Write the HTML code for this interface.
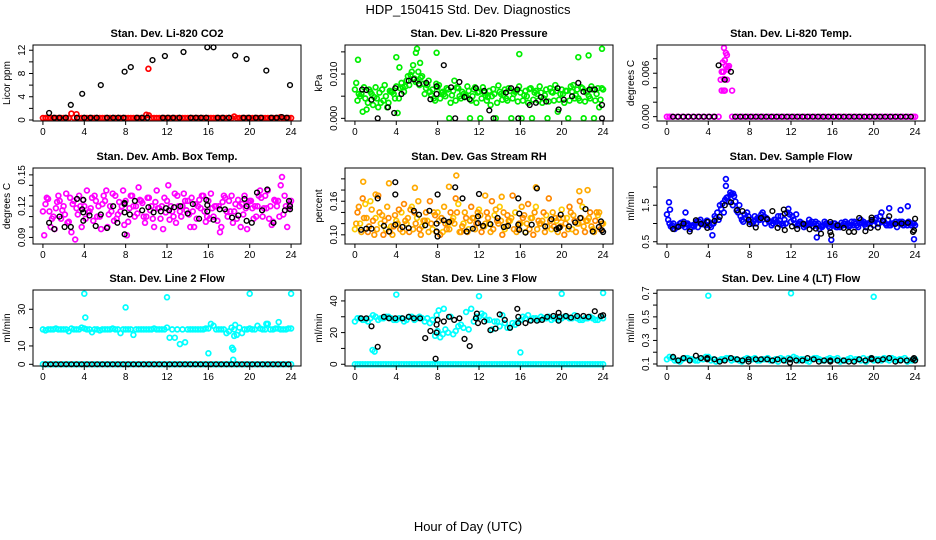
<!DOCTYPE html>
<html><head><meta charset="utf-8"><style>
html,body{margin:0;padding:0;background:#fff;}
svg{display:block;font-family:"Liberation Sans",Arial,sans-serif;}
</style></head><body>
<svg id="chart" width="936" height="540" viewBox="0 0 936 540" xmlns="http://www.w3.org/2000/svg">
<text x="468" y="14" text-anchor="middle" font-size="13">HDP_150415  Std. Dev. Diagnostics</text>
<text x="468" y="531" text-anchor="middle" font-size="13">Hour of Day (UTC)</text>
</svg>
<script>
// ---------- data ----------
const xTicks = [0,4,8,12,16,20,24];
// P1 CO2
const co2RedA = [.35,.35,.35,.35,.35,.35,.4,.35,.35,.35,.35,.35,.35,.35,.35,.35,.35,.35,.35,.35,.9,.35,.35,.35,.35,.35,.35,.35,.35,.35,.35,.35,.35,.35,.35,.35,.35,.6,.35,.35,.35,.35,.35,.35,.35,.35,.5,.35,.35];
const co2RedB = [.35,.35,.35,.35,.35,1.1,1.0,.35,.35,.35,.35,.35,.35,.35,.35,.35,.35,.35,.35,.35,.8,.35,.35,.35,.35,.35,.35,.35,.35,.35,.35,.35,.35,.35,.35,.35,.35,.35,.35,.35,.35,.35,.35,.35,.35,.35,.35,.35];
const co2BlackX = [0.6,2.7,3.8,5.6,7.9,8.5,10.6,11.8,13.6,15.9,16.5,18.6,19.7,21.6,23.9,1.1,1.6,2.2,3.3,4.0,4.6,5.2,6.2,6.8,7.3,7.8,9.1,9.6,10.1,11.6,12.1,12.6,13.2,14.3,14.8,15.3,15.8,16.9,17.4,18.0,19.4,19.9,20.6,21.1,22.1,22.6,23.1,23.6];
const co2BlackY = [1.2,2.6,4.5,6.0,8.3,9.1,10.3,11.0,11.7,12.5,12.5,11.1,10.5,8.5,6.0,.4,.4,.4,.4,.4,.4,.4,.4,.4,.4,.4,.4,.4,.4,.4,.4,.4,.4,.4,.4,.4,.4,.4,.4,.4,.4,.4,.4,.4,.4,.4,.5,.4];
const co2RedX = [10.2]; const co2RedY = [8.8];
// P2 pressure
const presA = [.0065,.005,.0045,.006,.007,.0035,.005,.006,.0072,.008,.0085,.0105,.0085,.0095,.0075,.0065,.007,.006,.0065,.0062,.0068,.0055,.0062,.0065,.006,.0058,.0062,.0055,.006,.0065,.0062,.006,.0058,.0062,.0068,.0062,.0058,.0065,.006,.0062,.0065,.0062,.006,.0065,.0068,.0062,.0065,.0068,.0065];
const presB = [.004,.0015,.0035,.003,.0025,.004,.0035,.0055,.0045,.006,.0075,.009,.0075,.0055,.006,.004,.0045,.005,.0035,.004,.0045,.005,.004,.0035,.0045,.004,.005,.0035,.0042,.004,.0045,.0038,.004,.0035,.0042,.004,.0045,.0038,.004,.0042,.0035,.004,.0045,.004,.0038,.0045,.004,.0042];
const presC = [.008,.0055,.002,.0055,.0045,.0065,.0025,.006,.0012,.007,.0095,.012,.0105,.0078,.0085,.0045,.0075,.0055,0,.0085,.005,.0048,0,.007,0,.0052,.003,0,.0055,.0045,0,.0062,0,.005,0,.0055,.0035,0,.0058,.0015,.0055,0,.0075,.0045,0,.005,0,.0025];
const presD = [.0055,.007,.0065,.0048,.0058,.0075,.0062,.0045,.0068,.0072,.0098,.0082,.0092,.0068,.0052,.0078,.0058,.0068,.0052,.007,.006,.0072,.005,.0058,.007,.0048,.0066,.0074,.0052,.0068,.0055,.0072,.0052,.0066,.0058,.0072,.0052,.0068,.0075,.0055,.0062,.0072,.0052,.007,.0058,.0072,.0055,.0068];
const presOutX = [0.3,4,7.9,15.9,21.6,22.6,23.9,6.0,4.3,5.9,6.3];
const presOutY = [.0132,.0138,.0148,.0145,.0138,.0142,.0157,.0157,.0115,.0148,.0125];
const presBlackX = [0.7,1.1,1.6,2.2,3.2,3.8,3.9,4.5,5.2,5.7,6.2,6.9,7.3,7.9,7.9,8.6,9.3,9.7,10.1,10.6,11.1,11.7,12.5,13,13.4,14.6,15.1,15.7,15.8,16.9,17.5,18,18.5,19.6,19.7,20.2,21,21.6,22.1,22.7,23.2,23.9,23.9];
const presBlackY = [.0065,.0064,.0042,0,.0025,.0012,.0068,.0055,.0085,.0088,.0078,.008,.0043,.0072,.0055,.012,.007,0,.0082,.0048,.0043,.0068,.0062,.0018,0,.0058,.0068,.0065,0,.003,.0035,.0048,.0038,.0068,.002,.0042,.005,.008,.006,.0065,.0065,.003,0];
// P3 Li-820 temp
const tempZeros = [0,0,0,0,0,0,0,0,0,0,0,0,0,0,0,0,0,0,0,0,0,0,0,0,0,0,0,0,0,0,0,0,0,0,0,0,0,0,0,0,0,0,0,0,0,0,0,0,0];
const tempZeroHours = [0,0.5,1,1.5,2,2.5,3,3.5,4,4.5,5,6.3,6.8,7.3,7.8,8.3,8.8,9.3,9.8,10.3,10.8,11.3,11.8,12.3,12.8,13.3,13.8,14.3,14.8,15.3,15.8,16.3,16.8,17.3,17.8,18.3,18.8,19.3,19.8,20.3,20.8,21.3,21.8,22.3,22.8,23.3,23.8,24,0.25];
const tempSpikeX = [5.52,5.7,5.8,5.6,5.4,5.7,6.0,5.9,5.3,5.4,5.9,5.2,5.5,5.8,5.3,5.5,5.6,6.3,5.45];
const tempSpikeY = [.0095,.0088,.0085,.0078,.0075,.0070,.0070,.0068,.0062,.0062,.0065,.0051,.0052,.0051,.0036,.0036,.0036,.0036,.0062];
const tempBlackX = [5.0,6.2,5.6];
const tempBlackY = [.0071,.0062,.0051];
// P4 box temp
const boxA = [.115,.127,.11,.13,.12,.105,.125,.13,.12,.115,.13,.11,.125,.12,.13,.115,.125,.13,.12,.125,.11,.12,.135,.12,.125,.115,.13,.12,.125,.115,.12,.13,.125,.11,.12,.13,.125,.115,.12,.13,.125,.12,.135,.13,.12,.125,.14,.12,.125];
const boxB = [.122,.1,.118,.108,.132,.095,.118,.1,.135,.128,.11,.122,.1,.132,.112,.135,.105,.12,.138,.11,.128,.1,.118,.128,.107,.132,.115,.125,.1,.122,.118,.105,.132,.12,.1,.115,.13,.108,.122,.098,.118,.12,.11,.135,.105,.125,.112,.118];
const boxC = [.092,.115,.098,.125,.112,.128,.088,.12,.108,.118,.125,.098,.135,.115,.108,.12,.092,.13,.113,.123,.128,.108,.118,.098,.14,.11,.12,.132,.112,.1,.126,.115,.108,.12,.095,.128,.115,.122,.1,.118,.125,.11,.128,.118,.102,.12,.148,.1];
const boxD = [.128,.108,.124,.116,.104,.122,.112,.126,.114,.106,.12,.13,.112,.106,.124,.102,.118,.11,.126,.104,.116,.124,.108,.114,.12,.104,.11,.116,.128,.108,.13,.11,.118,.106,.124,.11,.104,.126,.112,.124,.108,.13,.118,.108,.126,.11,.13,.122];
const boxBlackX = [0.6,1.1,1.6,2.1,2.7,3.3,3.9,3.8,3.9,3.9,4.5,5.1,5.6,6.2,6.8,7.2,7.9,7.9,7.9,7.9,8.4,8.9,9.6,10.2,10.7,11.4,11.9,12.2,12.7,13.3,14,14.5,15.1,15.8,15.9,15.9,16.5,17.1,17.6,18.3,18.9,19.5,19.7,19.7,20.2,20.7,21.2,21.7,22.3,23.4,23.8,23.9,23.9];
const boxBlackY = [.104,.098,.11,.1,.1,.127,.126,.117,.114,.106,.111,.101,.112,.099,.12,.104,.123,.122,.114,.093,.112,.125,.116,.119,.114,.115,.118,.116,.119,.12,.113,.122,.108,.126,.121,.115,.107,.117,.117,.109,.111,.127,.12,.106,.104,.133,.116,.136,.104,.116,.125,.12,.117];
// P5 RH
const rhA = [.11,.12,.155,.16,.13,.12,.11,.115,.125,.14,.12,.15,.13,.115,.125,.11,.14,.105,.12,.13,.155,.12,.11,.13,.145,.115,.12,.135,.15,.11,.125,.14,.12,.105,.13,.15,.12,.135,.11,.125,.145,.13,.11,.12,.15,.125,.11,.135,.12];
const rhB = [.14,.165,.105,.125,.17,.1,.13,.115,.145,.155,.105,.14,.11,.125,.16,.135,.1,.12,.14,.165,.105,.13,.15,.12,.105,.14,.16,.125,.1,.135,.17,.11,.13,.155,.1,.125,.14,.165,.115,.13,.1,.15,.125,.16,.105,.14,.125,.11];
const rhC = [.12,.105,.13,.145,.11,.135,.15,.1,.12,.105,.13,.11,.16,.125,.105,.14,.125,.15,.11,.12,.105,.14,.125,.11,.135,.12,.105,.145,.125,.115,.13,.105,.15,.12,.13,.11,.125,.115,.14,.105,.13,.11,.135,.12,.115,.13,.105,.14];
const rhD = [.15,.13,.115,.1,.14,.125,.105,.135,.11,.125,.145,.12,.1,.14,.12,.105,.13,.11,.125,.14,.115,.105,.13,.14,.115,.13,.11,.12,.14,.125,.11,.12,.135,.11,.14,.12,.105,.125,.13,.115,.12,.14,.105,.13,.125,.115,.14,.12];
const rhOutX = [0.8,3.3,5.8,9.1,9.8,12.6,17.5,22.5,21.7,2.0,14.2];
const rhOutY = [.195,.192,.184,.186,.206,.17,.185,.18,.178,.172,.168];
const rhBlackX = [0.6,1.1,1.6,2.2,2.8,3.3,3.9,3.9,3.9,4.6,5.2,5.7,6.2,6.8,7.2,7.9,7.9,8,8,8.6,9.1,9.7,10.4,10.8,11.4,11.9,11.9,12,12.4,13.1,13.8,14.4,14.8,15.8,15.8,15.9,15.9,16.5,17.1,17.6,18.4,19,19.5,19.7,19.8,19.9,20.7,21.3,21.8,22.3,23,23.6,23.8,23.9,24];
const rhBlackY = [.109,.111,.111,.165,.116,.106,.118,.194,.172,.114,.112,.143,.136,.117,.143,.106,.12,.172,.097,.126,.123,.185,.165,.106,.111,.133,.121,.173,.116,.119,.13,.114,.116,.165,.118,.109,.138,.104,.118,.183,.115,.128,.11,.112,.113,.136,.115,.122,.13,.146,.106,.114,.124,.108,.105];
// P6 sample flow
const flowA = [1.25,.95,.9,.95,1.0,.95,.9,1.0,1.05,1.0,1.1,1.3,1.6,1.75,1.5,1.25,1.05,1.2,1.1,1.0,1.05,1.1,1.2,1.0,1.05,1.25,1.0,.95,1.05,.95,.9,1.0,.95,.9,.95,1.0,.95,.9,1.05,1.0,.95,1.0,1.05,.95,1.0,1.05,1.0,1.0,.95];
const flowB = [1.0,.85,1.0,.9,.85,1.0,1.1,.95,.9,1.15,1.4,1.7,1.8,1.35,1.1,1.3,1.0,1.15,1.3,1.1,1.0,1.2,.95,1.4,1.1,1.0,.9,1.1,1.0,.85,1.05,.88,1.0,.9,1.05,.95,1.0,1.1,.9,1.05,1.15,1.3,.95,1.0,.9,1.05,.95,1.0];
const flowC = [1.1,1.0,.92,1.05,.95,.92,1.05,1.0,.95,1.2,1.5,1.65,1.85,1.6,1.2,1.15,1.1,1.0,1.25,1.15,.95,1.05,1.0,1.3,1.2,.95,1.0,1.0,.92,1.0,.95,.93,1.0,.95,1.0,.92,1.05,1.0,.97,1.0,1.1,1.2,1.0,.95,1.05,.98,1.0,.95];
const flowD = [.92,.9,1.02,.98,.9,1.05,.98,1.08,1.0,1.3,1.55,1.72,1.5,1.3,1.05,1.2,1.05,1.1,1.2,1.05,1.1,.98,1.1,1.25,1.0,1.05,.95,.98,1.05,.92,1.0,.98,.9,1.02,.95,1.05,.95,1.02,1.0,1.08,1.0,1.05,1.1,1.0,1.02,.95,1.05,1.0];
const flowOutX = [0.2,0.3,1.8,4.4,5.7,5.7,6.4,21.5,22.6,23.3,23.9,15.9,14.5];
const flowOutY = [1.58,1.38,1.3,.68,2.22,2.03,1.82,1.42,1.37,1.47,.57,.55,.62];
const flowBlackX = [0.6,1.1,1.6,2.2,2.8,3.3,3.9,3.9,4.6,5.1,5.6,6.2,6.8,7.3,7.9,8.0,8.6,9.1,9.7,10.2,10.7,11.3,11.4,11.4,12.1,12.6,13.2,13.8,14.4,14.9,15.8,15.9,15.8,16.5,17.1,17.6,18.1,18.6,19.2,19.7,19.8,19.8,20.4,20.9,21.5,22.1,22.7,23.3,23.8,23.9,24.0];
const flowBlackY = [.85,.91,1.0,.78,1.09,.99,1.04,.88,1.07,1.18,1.5,1.58,1.37,1.34,1.1,.98,.89,1.15,1.12,1.34,.88,1.38,1.27,.82,.92,.85,.99,.84,.86,.72,.76,.68,1.04,.95,.88,.77,.77,1.15,.79,.88,1.16,1.1,.89,1.08,1.2,.99,1.0,1.02,.77,.81,1.13];
// P7 line 2 flow
const l2A = [19,19,19,19,19,18,19,19,19.5,19,19,18.5,19,19,19,17,19,19,19,19,19,19,19,19,20,19,19,19,19,19,19,19,19.5,21,19,19,18,19,20,19,19.5,19,19.5,19,19,19.5,19,19,19.5];
const l2B = [18.5,19,19.5,19,19,19.5,19,20,19,17.5,19,19,19,19.5,19,19,19,16,19,19,19,19.5,19,19,14.5,14.5,11,12,19,19,19,19.5,22,19,19,17,20,16,17,19,19,21,19,22,19,19.5,19,19.5];
const l2OutX = [4,4.1,8,12,16,18.3,18.4,18.4,18.5,18.6,20,21.6,22.8,24];
const l2OutY = [38.5,25.5,31,36.5,6,9,8,2.5,15.5,21.5,38.5,22,23,38.5];
const l2Zeros = [0,0,0,0,0,0,0,0,0,0,0,0,0,0,0,0,0,0,0,0,0,0,0,0,0,0,0,0,0,0,0,0,0,0,0,0,0,0,0,0,0,0,0,0,0,0,0,0,0];
// P8 line 3 flow
const l3A = [27,29,28,29,30,29,30,29,28,29,28,30,29,29,29,28,21,19,20,19,24,23,22,27,30,31,28,27,24,26,23,25,28,29,28,29,30,29,28,29,29,30,29,29,28,29,29,28,29];
const l3B = [29,28,27,31,28,29,30,28,29,27,30,28,30,27,26,18,17,22,30,21,25,33,35,30,32,28,22,27,31,23,26,27,30,31,29,28,29,30,29,28,30,29,31,28,29,30,28,30];
const l3OutX = [1.7,1.9,4,7.9,8.1,8.6,12,16,20,24];
const l3OutY = [9,8,44,31,34,35,43,7.5,44.5,45];
const l3BlackX = [0.6,1.1,1.6,2.2,2.8,3.3,3.9,4.6,5.2,5.7,6.3,6.8,7.3,7.8,7.9,7.9,8,8.6,9.1,9.6,10.1,10.6,11.1,11.7,11.8,11.9,12.5,13.1,13.6,14,14.5,15,15.7,15.8,15.8,16.5,17,17.6,18.1,18.6,19.2,19.7,19.8,19.7,20.4,20.9,21.5,22.1,22.6,23.2,23.8,24];
const l3BlackY = [29,29,24,11,30,29,29,29,30,29,29,16.5,21,3.5,25,20,28,27,30,28,29,16,11.5,29,32,26,27,21.5,22.5,31.5,28,23,35,30,26,26,27.5,27.5,28,30,30.5,32.5,30,27.5,30.5,29.5,30.5,30.5,30,33.5,30.5,31];
// P9 line 4 flow
const l4A = [.14,.15,.13,.14,.15,.14,.13,.14,.16,.14,.13,.14,.15,.14,.13,.14,.14,.15,.13,.14,.13,.14,.15,.13,.14,.15,.14,.13,.14,.15,.13,.14,.14,.15,.13,.14,.13,.14,.15,.14,.13,.14,.15,.13,.14,.14,.15,.13,.14];
const l4B = [.16,.13,.12,.15,.14,.13,.15,.16,.13,.12,.14,.15,.13,.14,.12,.15,.14,.13,.14,.15,.13,.12,.14,.15,.16,.13,.14,.12,.15,.14,.13,.15,.14,.12,.13,.15,.14,.13,.12,.15,.14,.13,.14,.15,.13,.14,.12,.13];
const l4OutX = [4,12,20];
const l4OutY = [.68,.70,.67];
const l4BlackX = [0.6,1.1,1.6,2.2,2.8,3.3,3.9,3.9,4.6,5.1,5.6,6.2,6.8,7.3,7.9,7.9,8.6,9.1,9.7,10.2,10.7,11.3,11.9,11.9,12.5,13.1,13.6,14.2,14.7,15.2,15.8,15.8,16.5,17.1,17.6,18.1,18.6,19.2,19.8,19.8,20.4,20.9,21.5,22.1,22.6,23.2,23.8,23.9,24];
const l4BlackY = [.16,.13,.15,.13,.17,.15,.14,.15,.14,.12,.13,.15,.14,.13,.14,.12,.14,.14,.14,.13,.14,.13,.14,.11,.13,.13,.15,.14,.12,.13,.13,.12,.13,.13,.12,.12,.14,.13,.15,.14,.13,.14,.15,.12,.13,.13,.14,.15,.13];

// ---------- drawing ----------
const NS = 'http://www.w3.org/2000/svg';
const svg = document.getElementById('chart');
function mk(tag, attrs, parent){ const e=document.createElementNS(NS,tag); for(const k in attrs) e.setAttribute(k,attrs[k]); (parent||svg).appendChild(e); return e; }
function grid(start, step, vals){ return vals.map((v,i)=>start+i*step); }

function panel(p){
  const L=p.left, T=p.top, W=268, H=76;
  const g = mk('g',{});
  
  
  const xMin=-0.96, xMax=24.96;
  const sx = v => L + (v-xMin)/(xMax-xMin)*W;
  const sy = v => T + H - (v-p.yMin)/(p.yMax-p.yMin)*H;
  p.series.forEach(s=>{
    const sw = s.color==='#000' ? 1.4 : 1.7;
    const sg = mk('g',{fill:'none',stroke:s.color,'stroke-width':sw},g);
    
    
    s.ys.forEach((v,i)=>{
      const c = mk('circle',{cx:sx(s.xs[i]).toFixed(1),cy:sy(v).toFixed(1),r:2.4},sg);
      
      
    });
  });
  const box = mk('rect',{x:L,y:T,width:W,height:H,fill:'none',stroke:'#000','stroke-width':1},g);
  
  
  xTicks.forEach(t=>{
    const x=sx(t);
    mk('line',{x1:x,y1:T+H,x2:x,y2:T+H+4,stroke:'#000'},g);
    const tx = mk('text',{x:x,y:T+H+14,'text-anchor':'middle','font-size':10},g);
    tx.textContent=String(t);
    
    
  });
  p.yTicks.forEach((t,i)=>{
    const y=sy(t);
    mk('line',{x1:L,y1:y,x2:L-4,y2:y,stroke:'#000'},g);
    if(p.yLabels[i]){
      const tx = mk('text',{x:0,y:0,'text-anchor':'middle','font-size':10,transform:`translate(${L-8},${y}) rotate(-90)`},g);
      tx.textContent=p.yLabels[i];
      
      
    }
  });
  const yt = mk('text',{x:0,y:0,'text-anchor':'middle','font-size':10,transform:`translate(${L-23},${T+H/2}) rotate(-90)`},g);
  yt.textContent=p.ylab;
  
  
  const tt = mk('text',{x:L+W/2,y:T-8,'text-anchor':'middle','font-size':11,'font-weight':'bold'},g);
  tt.textContent=p.title;
  
  
}

const C=[33,345,657], R=[45,168,290];
const zeroHours = grid(0,0.5,l2Zeros);
const zeroHoursB = grid(0.25,0.5,l2Zeros);
panel({name:'panel-co2',left:C[0],top:R[0],yMin:-0.17,yMax:12.9,title:'Stan. Dev. Li-820 CO2',ylab:'Licor ppm',
  yTicks:[0,2,4,6,8,10,12],yLabels:['0','','4','','8','','12'],
  series:[{name:'co2-red',color:'#ff0000',xs:grid(0,0.5,co2RedA),ys:co2RedA},
          {name:'co2-red-b',color:'#ff0000',xs:grid(0.25,0.5,co2RedB),ys:co2RedB},
          {name:'co2-black',color:'#000',xs:co2BlackX,ys:co2BlackY},
          {name:'co2-red-outlier',color:'#ff0000',xs:co2RedX,ys:co2RedY}]});
panel({name:'panel-pressure',left:C[1],top:R[0],yMin:-0.0006,yMax:0.01655,title:'Stan. Dev. Li-820 Pressure',ylab:'kPa',
  yTicks:[0,.005,.01,.015],yLabels:['0.000','','0.010',''],
  series:[{name:'pressure-a',color:'#00ee00',xs:grid(0,0.5,presA),ys:presA},
          {name:'pressure-b',color:'#00ee00',xs:grid(0.25,0.5,presB),ys:presB},
          {name:'pressure-c',color:'#00ee00',xs:grid(0.125,0.5,presC),ys:presC},
          {name:'pressure-d',color:'#00ee00',xs:grid(0.375,0.5,presD),ys:presD},
          {name:'pressure-outliers',color:'#00ee00',xs:presOutX,ys:presOutY},
          {name:'pressure-black',color:'#000',xs:presBlackX,ys:presBlackY}]});
panel({name:'panel-li820-temp',left:C[2],top:R[0],yMin:-0.0006,yMax:0.0099,title:'Stan. Dev. Li-820 Temp.',ylab:'degrees C',
  yTicks:[0,.002,.004,.006,.008],yLabels:['0.000','','','0.006',''],
  series:[{name:'temp-zeros',color:'#ff00ff',xs:tempZeroHours,ys:tempZeros},
          {name:'temp-spike',color:'#ff00ff',xs:tempSpikeX,ys:tempSpikeY},
          {name:'temp-black-zeros',color:'#000',xs:grid(0.6,0.5,tempZeros.slice(0,47)).filter(h=>h<4.9||h>6.5),ys:tempZeros.slice(0,44)},
          {name:'temp-black',color:'#000',xs:tempBlackX,ys:tempBlackY}]});
panel({name:'panel-box-temp',left:C[0],top:R[1],yMin:0.0837,yMax:0.1566,title:'Stan. Dev. Amb. Box Temp.',ylab:'degrees C',
  yTicks:[.09,.10,.11,.12,.13,.14,.15],yLabels:['0.09','','','0.12','','','0.15'],
  series:[{name:'box-a',color:'#ff00ff',xs:grid(0,0.5,boxA),ys:boxA},
          {name:'box-b',color:'#ff00ff',xs:grid(0.25,0.5,boxB),ys:boxB},
          {name:'box-c',color:'#ff00ff',xs:grid(0.125,0.5,boxC),ys:boxC},
          {name:'box-d',color:'#ff00ff',xs:grid(0.375,0.5,boxD),ys:boxD},
          {name:'box-black',color:'#000',xs:boxBlackX,ys:boxBlackY}]});
panel({name:'panel-rh',left:C[1],top:R[1],yMin:0.0836,yMax:0.2194,title:'Stan. Dev. Gas Stream RH',ylab:'percent',
  yTicks:[.10,.12,.14,.16,.18,.20],yLabels:['0.10','','','0.16','',''],
  series:[{name:'rh-a',color:'#ffcc00',xs:grid(0,0.5,rhA),ys:rhA},
          {name:'rh-b',color:'#ff8800',xs:grid(0.25,0.5,rhB),ys:rhB},
          {name:'rh-c',color:'#ffaa00',xs:grid(0.125,0.5,rhC),ys:rhC},
          {name:'rh-d',color:'#ff9900',xs:grid(0.375,0.5,rhD),ys:rhD},
          {name:'rh-outliers',color:'#ffaa00',xs:rhOutX,ys:rhOutY},
          {name:'rh-black',color:'#000',xs:rhBlackX,ys:rhBlackY}]});
panel({name:'panel-sample-flow',left:C[2],top:R[1],yMin:0.438,yMax:2.52,title:'Stan. Dev. Sample Flow',ylab:'ml/min',
  yTicks:[.5,1,1.5,2],yLabels:['0.5','','1.5',''],
  series:[{name:'flow-a',color:'#0000ff',xs:grid(0,0.5,flowA),ys:flowA},
          {name:'flow-b',color:'#0000ff',xs:grid(0.25,0.5,flowB),ys:flowB},
          {name:'flow-c',color:'#0000ff',xs:grid(0.125,0.5,flowC),ys:flowC},
          {name:'flow-d',color:'#0000ff',xs:grid(0.375,0.5,flowD),ys:flowD},
          {name:'flow-outliers',color:'#0000ff',xs:flowOutX,ys:flowOutY},
          {name:'flow-black',color:'#000',xs:flowBlackX,ys:flowBlackY}]});
panel({name:'panel-line2',left:C[0],top:R[2],yMin:-0.93,yMax:40.5,title:'Stan. Dev. Line 2 Flow',ylab:'ml/min',
  yTicks:[0,10,20,30],yLabels:['0','10','','30'],
  series:[{name:'line2-a',color:'#00ffff',xs:grid(0,0.5,l2A),ys:l2A},
          {name:'line2-b',color:'#00ffff',xs:grid(0.25,0.5,l2B),ys:l2B},
          {name:'line2-outliers',color:'#00ffff',xs:l2OutX,ys:l2OutY},
          {name:'line2-zeros-cyan',color:'#00ffff',xs:zeroHours,ys:l2Zeros},
          {name:'line2-zeros-black',color:'#000',xs:zeroHoursB,ys:l2Zeros.slice(0,48)}]});
panel({name:'panel-line3',left:C[1],top:R[2],yMin:-1.1,yMax:46.9,title:'Stan. Dev. Line 3 Flow',ylab:'ml/min',
  yTicks:[0,10,20,30,40],yLabels:['0','','20','','40'],
  series:[{name:'line3-a',color:'#00ffff',xs:grid(0,0.5,l3A),ys:l3A},
          {name:'line3-b',color:'#00ffff',xs:grid(0.25,0.5,l3B),ys:l3B},
          {name:'line3-outliers',color:'#00ffff',xs:l3OutX,ys:l3OutY},
          {name:'line3-zeros',color:'#00ffff',xs:zeroHours,ys:l2Zeros},
          {name:'line3-zeros-b',color:'#00ffff',xs:zeroHoursB,ys:l2Zeros.slice(0,48)},
          {name:'line3-black',color:'#000',xs:l3BlackX,ys:l3BlackY}]});
panel({name:'panel-line4',left:C[2],top:R[2],yMin:0.083,yMax:0.728,title:'Stan. Dev. Line 4 (LT) Flow',ylab:'ml/min',
  yTicks:[.1,.2,.3,.4,.5,.6,.7],yLabels:['0.1','','0.3','','0.5','','0.7'],
  series:[{name:'line4-a',color:'#00ffff',xs:grid(0,0.5,l4A),ys:l4A},
          {name:'line4-b',color:'#00ffff',xs:grid(0.25,0.5,l4B),ys:l4B},
          {name:'line4-outliers',color:'#00ffff',xs:l4OutX,ys:l4OutY},
          {name:'line4-black',color:'#000',xs:l4BlackX,ys:l4BlackY}]});
</script>
</body></html>
